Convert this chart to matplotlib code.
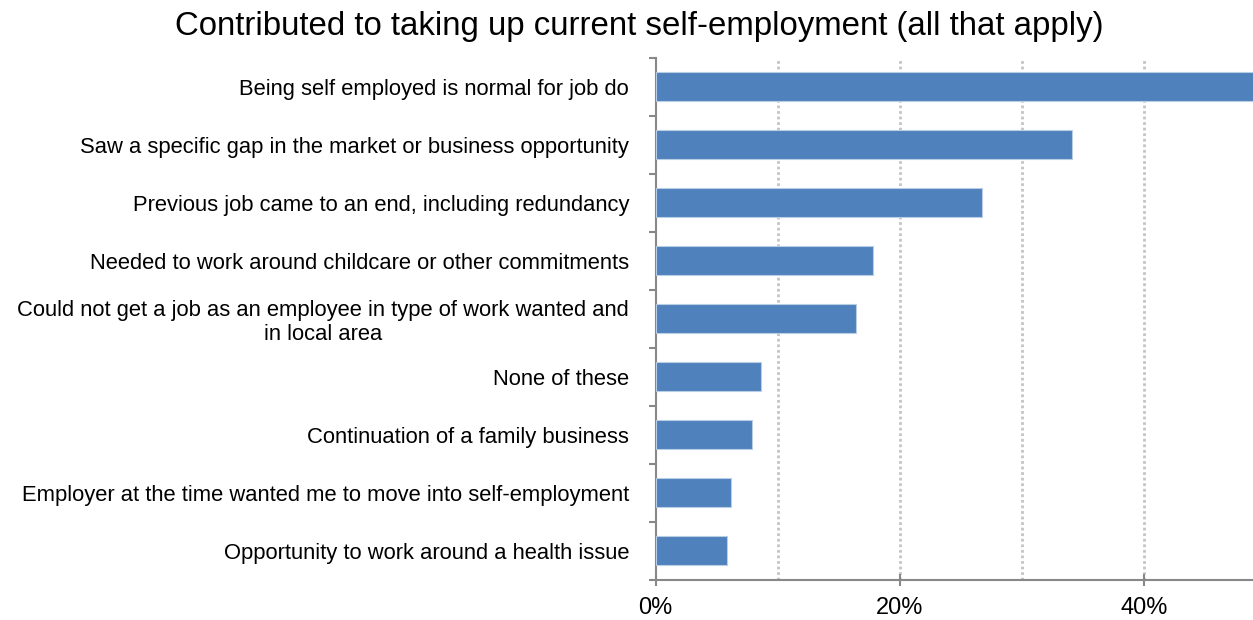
import matplotlib
matplotlib.use("Agg")
import matplotlib.pyplot as plt
from matplotlib.ticker import FixedLocator, FuncFormatter

plt.rcParams['font.family'] = ['Liberation Sans', 'DejaVu Sans']

categories = [
    "Being self employed is normal for job do",
    "Saw a specific gap in the market or business opportunity",
    "Previous job came to an end, including redundancy",
    "Needed to work around childcare or other commitments",
    "Could not get a job as an employee in type of work wanted and\nin local area",
    "None of these",
    "Continuation of a family business",
    "Employer at the time wanted me to move into self-employment",
    "Opportunity to work around a health issue",
]
values = [50.0, 34.1, 26.7, 17.8, 16.4, 8.6, 7.9, 6.2, 5.85]
title = "Contributed to taking up current self-employment (all that apply)"
x_major = [0, 20, 40]
x_grid = [10, 20, 30, 40]

W, H = 1253, 620
fig = plt.figure(figsize=(W / 100, H / 100), dpi=100)
left, right, top, bottom = 655.5, 1253, 58, 579.5
ax = fig.add_axes([left / W, 1 - bottom / H, (right - left) / W, (bottom - top) / H])

n = len(categories)
ypos = list(range(n))
ax.barh(ypos, values, height=0.5, color="#4F81BD", edgecolor="#B9CDE5", linewidth=0.8, zorder=3)
ax.set_ylim(n - 0.5, -0.5)
ax.set_xlim(0, 48.9)

ax.set_yticks(ypos)
ax.set_yticklabels(categories, fontsize=15.8, ha='right', multialignment='center')
ax.yaxis.set_minor_locator(FixedLocator([i - 0.5 for i in range(n + 1)]))
ax.tick_params(axis='y', which='major', length=0, pad=19)
ax.tick_params(axis='y', which='minor', length=5, width=1.5, color='#888888')

ax.set_xticks(x_major)
ax.xaxis.set_major_formatter(FuncFormatter(lambda v, p: f"{int(v)}%"))
ax.tick_params(axis='x', which='major', direction='inout', length=9, width=1.5,
               color='#888888', labelsize=17, pad=8)
for g in x_grid:
    ax.axvline(g, color='#C4C4C4', linewidth=2, linestyle=(0, (1, 1)), zorder=1)

for s in ['top', 'right']:
    ax.spines[s].set_visible(False)
for s in ['left', 'bottom']:
    ax.spines[s].set_color('#888888')
    ax.spines[s].set_linewidth(1.5)

fig.text(639 / W, 1 - 35 / H, title, ha='center', va='baseline', fontsize=23.8)

fig.savefig("out.png", dpi=100)
